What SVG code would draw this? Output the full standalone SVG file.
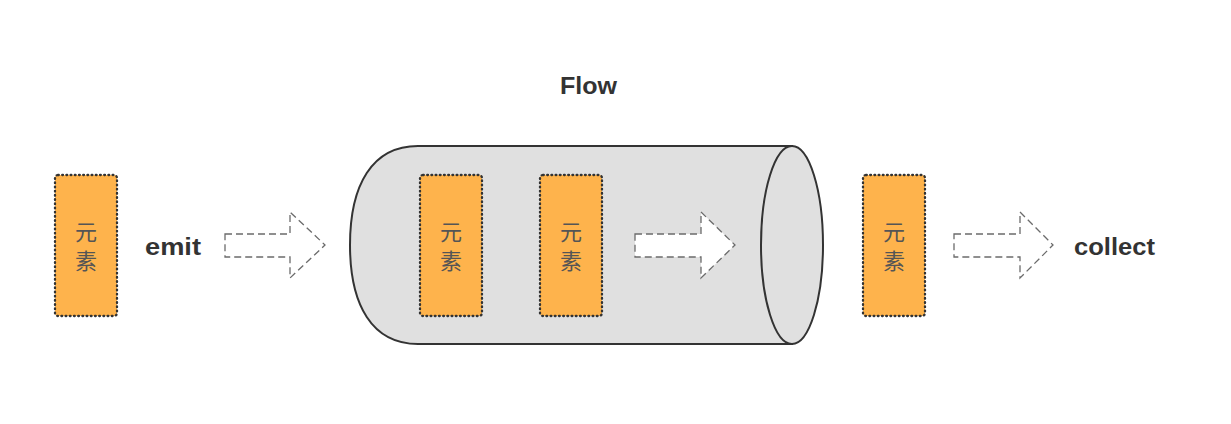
<svg xmlns="http://www.w3.org/2000/svg" width="1231" height="424" viewBox="0 0 1231 424">
<style>
.el{fill:#feb34c;stroke:#333;stroke-width:2.3;stroke-dasharray:0.8 3.4;stroke-linecap:round}
.cjk{font-family:"Noto Sans CJK SC","Noto Sans CJK JP",sans-serif;font-size:22px;fill:#555;text-anchor:middle}
.lbl{font-family:"Liberation Sans",Arial,sans-serif;font-weight:bold;font-size:24px;fill:#333}
.arr{stroke:#6b6b6b;stroke-width:1.3;stroke-dasharray:7 4}
.cyl{fill:#e0e0e0;stroke:#333;stroke-width:2}
</style>
<rect width="1231" height="424" fill="#fff"/>
<text class="lbl" x="560" y="94" textLength="57" lengthAdjust="spacingAndGlyphs">Flow</text>
<g id="flow-pipe">
<path class="cyl" d="M418,146 L792,146 L792,344 L418,344 C372,344 350,305 350,245 C350,185 372,146 418,146 Z"/>
<ellipse class="cyl" cx="792" cy="245" rx="31" ry="99"/>
</g>
<g id="el-source">
<rect class="el" x="55" y="175" width="62" height="141" rx="3"/>
<text class="cjk" x="86" y="240">元</text>
<text class="cjk" x="86" y="269">素</text>
</g>
<g id="emit-label"><text class="lbl" x="145" y="255" textLength="56" lengthAdjust="spacingAndGlyphs">emit</text></g>
<g id="el-flow-1">
<rect class="el" x="420" y="175" width="62" height="141" rx="3"/>
<text class="cjk" x="451" y="240">元</text>
<text class="cjk" x="451" y="269">素</text>
</g>
<g id="el-flow-2">
<rect class="el" x="540" y="175" width="62" height="141" rx="3"/>
<text class="cjk" x="571" y="240">元</text>
<text class="cjk" x="571" y="269">素</text>
</g>
<g id="el-out">
<rect class="el" x="863" y="175" width="62" height="141" rx="3"/>
<text class="cjk" x="894" y="240">元</text>
<text class="cjk" x="894" y="269">素</text>
</g>
<g id="collect-label"><text class="lbl" x="1074" y="255" textLength="81" lengthAdjust="spacingAndGlyphs">collect</text></g>
<g id="connectors">
<path class="arr" fill="none" d="M225,234 L290,234 L290,212 L325,245 L290,278 L290,257 L225,257 Z"/>
<path class="arr" fill="#fff" d="M635,234 L701,234 L701,212 L735,245 L701,278 L701,257 L635,257 Z"/>
<path class="arr" fill="none" d="M954,234 L1020,234 L1020,212 L1053,245 L1020,278 L1020,257 L954,257 Z"/>
</g>
</svg>
